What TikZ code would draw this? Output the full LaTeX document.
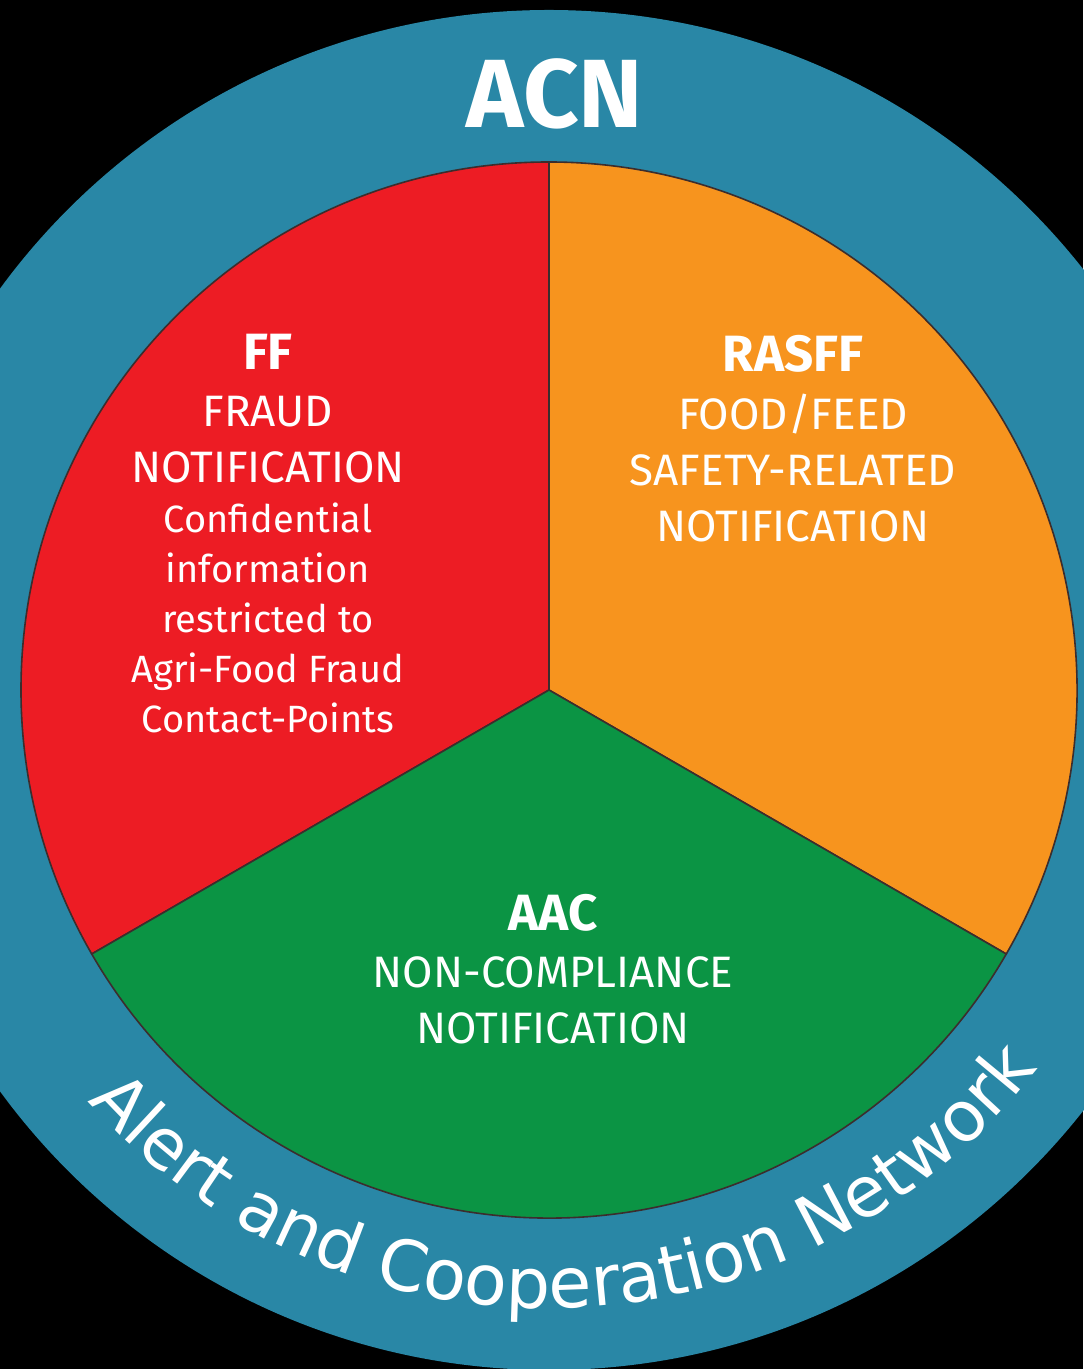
\documentclass[tikz,border=0pt]{standalone}
\usepackage{fontspec}
\setmainfont{Fira Sans}
\newfontfamily\ringfont{DejaVu Sans}
\usetikzlibrary{decorations.text}
\definecolor{acnteal}{RGB}{41,135,166}
\definecolor{ffred}{RGB}{237,28,36}
\definecolor{rasfforange}{RGB}{247,148,30}
\definecolor{aacgreen}{RGB}{11,148,68}
\definecolor{rim}{RGB}{60,45,45}
\begin{document}
\begin{tikzpicture}[x=0.5pt, y=0.5pt,
  sector/.style={draw=rim, line width=0.8pt},
  heading/.style={text=white, font=\bfseries\fontsize{25.5}{30}\selectfont},
  caps/.style={text=white, align=center, font=\fontsize{22}{28}\selectfont},
  note/.style={text=white, align=center, font=\fontsize{19}{25}\selectfont}]
\fill[black] (-549,-679) rectangle (534,690);
\useasboundingbox (-549,-679) rectangle (534,690);
\coordinate (hub) at (0,0);

% ring and the three sectors
\fill[acnteal] (hub) circle[radius=680];
\filldraw[sector, fill=ffred] (hub) -- (90:528) arc[start angle=90, end angle=210, radius=528] -- cycle;
\filldraw[sector, fill=rasfforange] (hub) -- (-30:528) arc[start angle=-30, end angle=90, radius=528] -- cycle;
\filldraw[sector, fill=aacgreen] (hub) -- (210:528) arc[start angle=210, end angle=330, radius=528] -- cycle;

\node [text=white, font=\bfseries\fontsize{48.5}{58}\selectfont] (acn) at (6,596) {ACN};

\node [heading] (ff) at (-281,338) {FF};
\node [caps] (ffsub) at (-281,250) {FRAUD\\NOTIFICATION};
\node [note] (ffnote) at (-281,72) {Confidential\\information\\restricted to\\Agri-Food Fraud\\Contact-Points};

\node [heading] (rasff) at (244,336) {RASFF};
\node [caps] (rasffsub) at (244,222) {FOOD/FEED\\SAFETY-RELATED\\NOTIFICATION};

\node [heading] (aac) at (4,-223) {AAC};
\node [caps] (aacsub) at (4,-310) {NON-COMPLIANCE\\NOTIFICATION};

\path [decorate, decoration={text along path, text align=center, text color=white,
  text={|\ringfont\fontsize{35}{42}\selectfont|Alert and Cooperation Network}}]
  (200:618) arc[start angle=200, end angle=344, radius=618];
\end{tikzpicture}
\end{document}
